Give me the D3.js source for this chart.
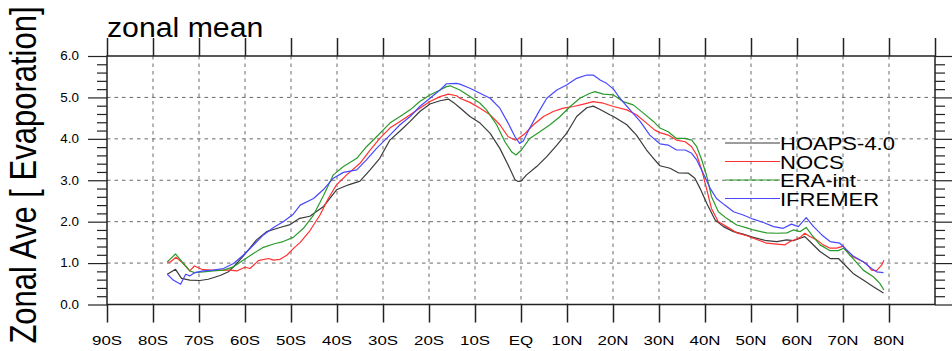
<!DOCTYPE html>
<html><head><meta charset="utf-8">
<script src="https://cdn.jsdelivr.net/npm/d3@7"></script>
<style>body{margin:0;background:#fff}svg{display:block}text{font-family:"Liberation Sans",Arial,Helvetica,sans-serif;fill:#000}</style>
</head><body>
<svg id="c" width="952" height="351"></svg>
<script>
const xTickValues = [-90,-80,-70,-60,-50,-40,-30,-20,-10,0,10,20,30,40,50,60,70,80];
const xTickLabels = ["90S","80S","70S","60S","50S","40S","30S","20S","10S","EQ","10N","20N","30N","40N","50N","60N","70N","80N"];
const yTickValues = [0,1,2,3,4,5,6];
const yTickLabels = ["0.0","1.0","2.0","3.0","4.0","5.0","6.0"];
const seriesNames = ["HOAPS-4.0","NOCS","ERA-int","IFREMER"];
const seriesColors = ["#3a3a3a","#ff3030","#2a9a2a","#4848ff"];

const hoapsLat = [-76.9,-75.1,-73.8,-72,-69.8,-68,-65.4,-63.6,-61.8,-59.6,-57.5,-55.3,-52.4,-50.2,-48.1,-45.9,-43,-40.1,-37.5,-35,-32.8,-30.7,-28.5,-26.3,-24.1,-22,-19.8,-17.6,-15.8,-14.7,-13.3,-11.1,-8.9,-6.7,-4.6,-2.8,-1.3,-0.6,0,1.2,3.4,5.6,7.8,9.9,12.1,14.3,15.7,17.2,19.3,20.1,23,25.1,27.3,28.8,30.2,32.4,34.2,36.4,37.8,38.9,40.4,42.2,44,46.2,48.3,50.5,53.4,55.6,57.8,59.2,60.7,61.7,62.8,65,67.2,69,70.1,72.2,74.4,76.6,78.8];
const hoapsVal = [0.73,0.85,0.63,0.59,0.58,0.61,0.70,0.79,0.99,1.27,1.56,1.76,1.86,1.93,2.08,2.13,2.36,2.77,2.89,2.98,3.25,3.53,3.97,4.19,4.42,4.66,4.84,4.92,4.96,4.88,4.75,4.54,4.38,4.13,3.77,3.37,3.01,2.97,2.98,3.13,3.33,3.57,3.85,4.13,4.54,4.75,4.79,4.71,4.58,4.54,4.34,4.09,3.73,3.53,3.35,3.29,3.18,3.17,3.05,2.81,2.44,2.04,1.88,1.76,1.70,1.62,1.54,1.52,1.56,1.54,1.60,1.64,1.52,1.28,1.11,1.11,0.99,0.75,0.59,0.43,0.28];

const nocsLat = [-76.9,-76.3,-75,-73.4,-72,-71,-69.4,-67.6,-65.4,-63.3,-61.8,-60,-58.9,-57.1,-54.9,-53.8,-52.4,-50.9,-49.5,-48,-45.9,-43.7,-41.9,-40.1,-37.9,-35,-32.8,-30.7,-28.5,-26.3,-24.1,-22,-19.8,-17.6,-15.8,-14,-13.3,-11.1,-8.9,-6.7,-4.6,-2.8,-1.3,-0.6,0.9,2.7,4.9,7,9.2,11.4,13.6,15.7,17.9,20.1,23,25.1,27.3,29.1,30.2,32,33.8,35.7,37.1,38.2,39.3,40.4,41.4,42.9,44.7,46.9,49.1,50.5,53.4,55.6,57.4,58.5,59.6,60.7,61.7,62.8,64.3,65.7,67.2,68.6,70.1,71.5,73.7,75.1,76.2,77.3,78.4,78.9];
const nocsVal = [1.03,1.02,1.14,0.99,0.81,0.93,0.85,0.83,0.83,0.83,0.81,0.90,0.87,1.06,1.11,1.07,1.09,1.19,1.35,1.50,1.78,2.16,2.56,2.89,3.13,3.41,3.73,4.01,4.26,4.42,4.58,4.74,4.90,5.02,5.08,5.04,4.98,4.88,4.74,4.58,4.34,4.05,3.97,4.0,4.13,4.34,4.54,4.66,4.74,4.78,4.84,4.90,4.86,4.78,4.70,4.58,4.38,4.21,4.15,4.09,3.97,3.93,3.81,3.61,3.25,2.77,2.32,2.0,1.88,1.73,1.66,1.60,1.48,1.46,1.44,1.52,1.57,1.62,1.72,1.64,1.56,1.44,1.36,1.36,1.41,1.19,1.07,0.99,0.83,0.82,0.95,1.07];

const eraLat = [-76.9,-75.1,-73.4,-72,-70.9,-69.1,-66.9,-64.7,-62.5,-60.4,-58.2,-56,-53.8,-51.7,-49.5,-47.3,-45.1,-42.9,-40.8,-38.6,-35.7,-33.6,-31.4,-28.5,-26.3,-24.1,-22,-19.8,-17.6,-16.2,-15.4,-13.3,-11.1,-8.9,-7.5,-5.3,-3.5,-2,-1.1,0.1,1.9,4.1,6.3,8.5,10.7,12.8,15,16.1,17.9,20.1,22.2,24.4,26.6,28.8,30.2,32,33.8,35.7,37.1,38.2,39.3,40.4,41.4,42.9,44.7,46.9,49.1,50.5,53.4,55.6,57.8,59.2,60.7,62,63.2,65,67.2,69,70.1,72.2,74.4,76.6,78,78.9];
const eraVal = [1.03,1.22,0.99,0.81,0.77,0.79,0.81,0.83,0.91,1.07,1.23,1.38,1.46,1.52,1.62,1.84,2.16,2.64,3.13,3.33,3.53,3.81,4.05,4.38,4.54,4.70,4.90,5.06,5.18,5.26,5.28,5.18,5.02,4.86,4.70,4.34,3.93,3.68,3.61,3.73,4.01,4.17,4.34,4.54,4.78,4.98,5.10,5.14,5.08,5.06,4.90,4.82,4.62,4.42,4.26,4.17,4.01,4.01,3.97,3.81,3.49,3.09,2.61,2.24,2.08,1.92,1.85,1.80,1.73,1.72,1.73,1.80,1.76,1.86,1.68,1.44,1.30,1.30,1.36,1.11,0.83,0.67,0.51,0.35];

const ifrLat = [-76.9,-75.6,-74,-72.9,-72,-70.9,-69.1,-66.9,-64.7,-62.5,-60.4,-58.2,-56,-53.8,-51.7,-49.5,-48,-45.1,-43,-40.8,-38.6,-35.7,-33.6,-31.4,-28.5,-26.3,-24.1,-22,-19.8,-17.6,-16.2,-14,-13.3,-11.1,-8.9,-6.7,-4.6,-2.8,-1.3,-0.3,0.5,1.9,3.7,5.6,7.8,9.9,12.1,14.3,15.7,17.2,18.6,20.1,21.5,23.7,25.9,28,30.2,32,33.8,35.7,37.1,38.2,39.6,41.1,42.5,44.3,46.2,48.3,50.5,52.7,54.9,57,58.8,60.3,62,63.6,65.4,67.2,69.3,70.4,72.2,74.4,76.2,77.3,78.8];
const ifrVal = [0.73,0.59,0.49,0.73,0.69,0.77,0.81,0.83,0.87,0.99,1.19,1.43,1.68,1.86,2.0,2.18,2.40,2.56,2.77,3.05,3.19,3.25,3.49,3.77,4.09,4.34,4.54,4.78,4.98,5.18,5.33,5.34,5.32,5.22,5.10,4.98,4.74,4.38,4.05,3.89,3.95,4.26,4.62,4.98,5.18,5.30,5.46,5.54,5.54,5.42,5.34,5.20,4.98,4.70,4.42,4.09,3.88,3.85,3.73,3.73,3.65,3.49,3.17,2.81,2.56,2.40,2.24,2.16,2.06,1.98,1.88,1.84,1.94,1.88,2.10,1.88,1.68,1.52,1.48,1.36,1.17,1.03,0.87,0.79,0.77];

const seriesLat = [hoapsLat, nocsLat, eraLat, ifrLat];
const seriesVal = [hoapsVal, nocsVal, eraVal, ifrVal];

const svg = d3.select("#c");
const L = 107, R = 935, T = 56, B = 304.5;
const x = d3.scaleLinear().domain([-90, 90]).range([L, R]);
const y = d3.scaleLinear().domain([0, 6]).range([B, T]);

function stext(g, px, py, str, size, sx, anchor) {
  return g.append("text")
    .attr("transform", `translate(${px},${py}) scale(${sx},1)`)
    .attr("text-anchor", anchor || "start")
    .attr("font-size", size)
    .text(str);
}

// grid
const grid = svg.append("g").attr("stroke", "#6a6a6a").attr("stroke-width", 1).attr("stroke-dasharray", "3.5,4");
xTickValues.filter(v => v > -90).forEach(v => {
  grid.append("line").attr("x1", x(v)).attr("x2", x(v)).attr("y1", T).attr("y2", B);
});
yTickValues.filter(v => v > 0 && v < 6).forEach(v => {
  grid.append("line").attr("x1", L).attr("x2", R).attr("y1", y(v)).attr("y2", y(v));
});

// series
const line = d3.line().x(d => x(d[0])).y(d => y(d[1]));
seriesLat.forEach((lats, i) => {
  const pts = lats.map((la, j) => [la, seriesVal[i][j]]);
  svg.append("path").datum(pts).attr("d", line)
    .attr("fill", "none").attr("stroke", seriesColors[i]).attr("stroke-width", 1.2)
    .attr("stroke-linejoin", "round");
});

// frame
svg.append("rect").attr("x", L).attr("y", T).attr("width", R - L).attr("height", B - T)
  .attr("fill", "none").attr("stroke", "#222").attr("stroke-width", 1.5);

// x ticks via axes
const xb = d3.axisBottom(x).tickValues(xTickValues).tickFormat("").tickSizeInner(18).tickSizeOuter(0);
const xt = d3.axisTop(x).tickValues(xTickValues.concat([90])).tickFormat("").tickSizeInner(18).tickSizeOuter(0);
const gxb = svg.append("g").attr("transform", `translate(0,${B})`).call(xb);
const gxt = svg.append("g").attr("transform", `translate(0,${T})`).call(xt);
[gxb, gxt].forEach(g => { g.select(".domain").remove(); g.selectAll("line").attr("stroke", "#222").attr("stroke-width", 1.5); });

// y ticks major + minor
const minor = d3.range(0, 6.001, 0.2).filter(v => Math.abs(v - Math.round(v)) > 0.01);
const yl = d3.axisLeft(y).tickValues(yTickValues).tickFormat("").tickSizeInner(19).tickSizeOuter(0);
const ylm = d3.axisLeft(y).tickValues(minor).tickFormat("").tickSizeInner(10).tickSizeOuter(0);
const yr = d3.axisRight(y).tickValues(yTickValues).tickFormat("").tickSizeInner(19).tickSizeOuter(0);
const yrm = d3.axisRight(y).tickValues(minor).tickFormat("").tickSizeInner(10).tickSizeOuter(0);
[[yl, L], [ylm, L], [yr, R], [yrm, R]].forEach(([ax, px]) => {
  const g = svg.append("g").attr("transform", `translate(${px},0)`).call(ax);
  g.select(".domain").remove();
  g.selectAll("line").attr("stroke", "#222").attr("stroke-width", 1.2);
});

// tick labels
const labs = svg.append("g");
xTickValues.forEach((v, i) => stext(labs, x(v), 345, xTickLabels[i], 13.5, 1.25, "middle"));
yTickValues.forEach((v, i) => stext(labs, 79, y(v) + 4.3, yTickLabels[i], 12, 1.12, "end"));

// title
stext(svg, 107, 37, "zonal mean", 27.5, 1.1, "start");

// y axis title
svg.append("text")
  .attr("transform", "translate(36,175) scale(1.2,1) rotate(-90)")
  .attr("text-anchor", "middle").attr("font-size", 31)
  .text("Zonal Ave [ Evaporation]");

// legend
const legY = [143, 161.5, 180, 198.5];
seriesNames.forEach((n, i) => {
  svg.append("line").attr("x1", 725).attr("x2", 780).attr("y1", legY[i]).attr("y2", legY[i])
    .attr("stroke", seriesColors[i]).attr("stroke-width", 1.2);
  stext(svg, 780, legY[i] + 7, n, 18.5, 1.19, "start");
});
</script>
</body></html>
